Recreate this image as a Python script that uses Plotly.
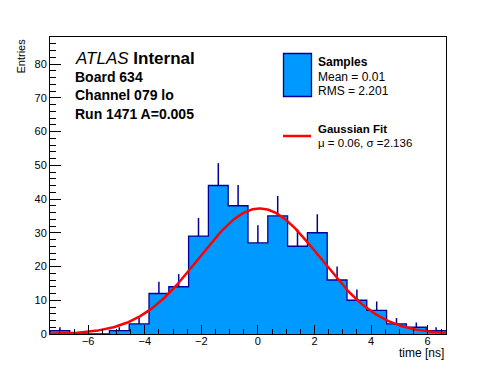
import numpy as np
import plotly.graph_objects as go

# ---- data ----
bin_centers = [-7.0, -6.3, -5.6, -4.9, -4.2, -3.5, -2.8, -2.1, -1.4, -0.7,
               0.0, 0.7, 1.4, 2.1, 2.8, 3.5, 4.2, 4.9, 5.6, 6.3]
counts = [1, 0, 0, 1, 3, 12, 14, 29, 44, 38,
          27, 35, 26, 30, 16, 10, 7, 3, 2, 1]
bin_width = 0.7
x_range = [-7.35, 6.65]
y_range = [0, 88]
fit_mu = 0.06
fit_sigma = 2.136
fit_amp = 37.2
x_ticks = [-6, -4, -2, 0, 2, 4, 6]
y_ticks = [0, 10, 20, 30, 40, 50, 60, 70, 80]

FILL = "#0099ff"
EDGE = "#000099"
FONT = "Liberation Sans, Arial, Helvetica, sans-serif"

c = np.array(counts, dtype=float)
centers = np.array(bin_centers)
edges = np.append(centers - bin_width / 2, centers[-1] + bin_width / 2)

fig = go.Figure()
fig.add_trace(go.Bar(x=centers, y=c, width=bin_width, marker=dict(color=FILL, line=dict(width=0)),
                     showlegend=False, hoverinfo="skip"))
fig.add_trace(go.Scatter(x=centers, y=c, mode="markers", marker=dict(size=0.1, color=EDGE),
                         error_y=dict(type="data", array=np.sqrt(c), arrayminus=np.zeros_like(c),
                                      symmetric=False, width=0, thickness=1.5, color=EDGE),
                         showlegend=False, hoverinfo="skip"))
step_x = np.concatenate([[edges[0]], edges])
step_y = np.concatenate([[0], c, [c[-1]]])
fig.add_trace(go.Scatter(x=step_x, y=step_y, mode="lines", line=dict(shape="hv", color=EDGE, width=1.3),
                         showlegend=False, hoverinfo="skip"))
xf = np.linspace(x_range[0], x_range[1], 400)
yf = fit_amp * np.exp(-0.5 * ((xf - fit_mu) / fit_sigma) ** 2)
fig.add_trace(go.Scatter(x=xf, y=yf, mode="lines", line=dict(color="#ff0000", width=2.5),
                         showlegend=False, hoverinfo="skip"))

fig.update_layout(
    width=496, height=372,
    margin=dict(l=50, r=50, t=37, b=38),
    paper_bgcolor="white", plot_bgcolor="white",
    bargap=0, showlegend=False,
    font=dict(family=FONT, color="black", size=10),
)
fig.update_xaxes(range=x_range, tickvals=x_ticks, ticks="inside", ticklen=9, tickwidth=1,
                 tickcolor="black", showline=True, linecolor="black", linewidth=1, mirror=True,
                 showgrid=False, zeroline=False, tickfont=dict(size=11, family=FONT),
                 ticklabelstandoff=-3,
                 minor=dict(dtick=0.5, tick0=0, ticks="inside", ticklen=5, tickcolor="black", showgrid=False))
fig.update_yaxes(range=y_range, tickvals=y_ticks, ticks="inside", ticklen=11, tickwidth=1,
                 tickcolor="black", showline=True, linecolor="black", linewidth=1, mirror=True,
                 showgrid=False, zeroline=False, tickfont=dict(size=11, family=FONT),
                 minor=dict(dtick=2, tick0=0, ticks="inside", ticklen=6, tickcolor="black", showgrid=False))

def px2paper_x(px):
    return (px - 50) / 396.0

def px2paper_y(py):
    return (334 - py) / 297.0

ann = []
def add_text(txt, px, py, size, xanchor="left"):
    ann.append(dict(text=txt, x=px2paper_x(px), y=px2paper_y(py), xref="paper", yref="paper",
                    xanchor=xanchor, yanchor="middle", showarrow=False,
                    font=dict(size=size, family=FONT, color="black")))

add_text("<i>ATLAS</i> <b>Internal</b>", 73, 58, 17)
add_text("<b>Board 634</b>", 73, 76.5, 14)
add_text("<b>Channel 079 lo</b>", 73, 95, 14)
add_text("<b>Run 1471 A=0.005</b>", 73, 113.5, 14)
add_text("<b>Samples</b>", 316, 61.5, 12)
add_text("Mean = 0.01", 316, 77, 12)
add_text("RMS = 2.201", 316, 90.5, 12)
add_text("<b>Gaussian Fit</b>", 316, 129, 11.5)
add_text("\u03bc = 0.06, \u03c3 =2.136", 316, 142.5, 11.5)
add_text("time [ns]", 446, 353, 12, xanchor="right")
ann.append(dict(text="Entries", x=px2paper_x(20), y=px2paper_y(37), xref="paper", yref="paper",
                xanchor="center", yanchor="top", textangle=-90, showarrow=False,
                font=dict(size=11, family=FONT, color="black")))
fig.update_layout(annotations=ann)

fig.update_layout(shapes=[
    dict(type="rect", xref="paper", yref="paper", x0=px2paper_x(283.5), x1=px2paper_x(311.5),
         y0=px2paper_y(96.5), y1=px2paper_y(53.5), fillcolor=FILL, line=dict(color=EDGE, width=1.3)),
    dict(type="line", xref="paper", yref="paper", x0=px2paper_x(283), x1=px2paper_x(311),
         y0=px2paper_y(136), y1=px2paper_y(136), line=dict(color="#ff0000", width=2.5)),
])

fig.write_html("out.html", config={"displayModeBar": False, "staticPlot": True},
               post_script="document.body.style.margin='0';document.body.style.padding='0';")
